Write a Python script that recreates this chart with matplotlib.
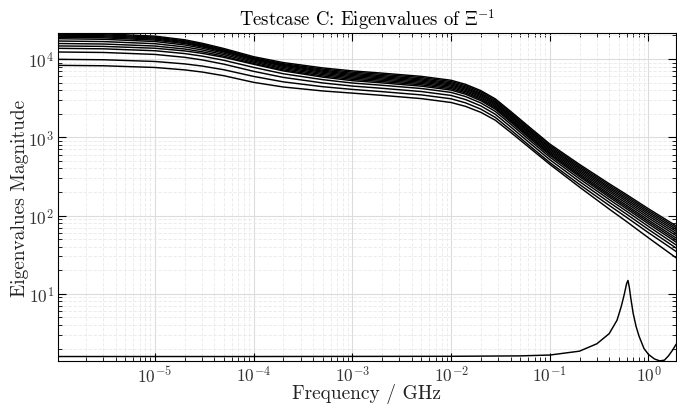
import matplotlib
matplotlib.use("Agg")
import matplotlib.pyplot as plt
from matplotlib.ticker import LogLocator, NullFormatter

plt.rcParams['font.family'] = 'serif'
plt.rcParams['font.serif'] = ['cmr10', 'DejaVu Serif']
plt.rcParams['mathtext.fontset'] = 'cm'
plt.rcParams['axes.formatter.use_mathtext'] = True
plt.rcParams['axes.unicode_minus'] = False

# Frequency grid (GHz) shared by the large eigenvalues
freq = [1e-6, 3e-6, 1e-5, 2e-5, 3e-5, 5e-5, 1e-4, 2e-4, 5e-4, 1e-3, 2e-3, 5e-3,
        1e-2, 1.4e-2, 2e-2, 2.8e-2, 4e-2, 6e-2, 0.1, 0.2, 0.4, 0.6, 1.0, 1.9]

eig01 = [21400, 21000, 19600, 17600, 15900, 13600, 10700, 9000, 7700, 7050, 6600, 6000,
         5350, 4750, 3950, 3100, 2150, 1400, 820, 450, 255, 185, 122, 74]
eig02 = [20800, 20410, 19050, 17090, 15440, 13200, 10380, 8710, 7440, 6800, 6370, 5790,
         5160, 4580, 3810, 2985, 2068, 1345, 787, 431, 243.5, 176.5, 116, 70.3]
eig03 = [20200, 19820, 18520, 16650, 15060, 12900, 10165, 8487, 7200, 6556, 6138, 5580,
         4975, 4413, 3664, 2869, 1986, 1290, 754, 412, 232, 168, 110.3, 66.6]
eig04 = [19600, 19244, 17987, 16196, 14676, 12600, 9951, 8276, 6988, 6345, 5940, 5400,
         4815, 4268, 3540, 2769, 1914, 1242, 726, 395, 221.5, 159.8, 104.6, 62.9]
eig05 = [19000, 18663, 17456, 15745, 14294, 12301, 9737, 8064, 6776, 6134, 5742, 5220,
         4655, 4123, 3417, 2669, 1843, 1194, 697, 377, 210.8, 151.6, 98.9, 59.2]
eig06 = [18190, 17869, 16731, 15118, 13754, 11866, 9416, 7794, 6545, 5922, 5544, 5040,
         4494, 3978, 3294, 2569, 1771, 1146, 668, 360, 200, 143.4, 93.2, 55.5]
eig07 = [16990, 16710, 15694, 14270, 13070, 11370, 9095, 7524, 6314, 5711, 5346, 4860,
         4334, 3833, 3170, 2469, 1700, 1098, 640, 343, 189.3, 135.3, 87.5, 51.8]
eig08 = [15790, 15550, 14657, 13422, 12386, 10873, 8774, 7254, 6083, 5499, 5148, 4680,
         4173, 3691, 3051, 2376, 1635, 1056, 615, 328, 180.5, 128.6, 82.9, 48.8]
eig09 = [14700, 14498, 13732, 12688, 11822, 10496, 8560, 7043, 5871, 5288, 4950, 4500,
         4013, 3548, 2933, 2283, 1571, 1014, 590, 314, 171.6, 121.9, 78.3, 45.9]
eig10 = [13700, 13497, 12756, 11739, 10892, 9622, 7811, 6476, 5448, 4935, 4620, 4200,
         3745, 3316, 2745, 2142, 1477, 956, 558, 294.6, 160.2, 113.4, 72.5, 42.2]
eig11 = [12300, 12123, 11446, 10516, 9739, 8586, 6955, 5819, 4947, 4512, 4224, 3840,
         3424, 3035, 2518, 1970, 1362, 884, 517, 272, 147.5, 104.1, 66.4, 38.5]
eig12 = [9910, 9784, 9302, 8661, 8133, 7287, 5992, 5103, 4428, 4089, 3828, 3480,
         3103, 2755, 2291, 1798, 1247, 812, 475.6, 249.6, 134.7, 94.9, 60.3, 34.8]
eig13 = [8303, 8200, 7797, 7262, 6821, 6113, 5029, 4388, 3908, 3666, 3432, 3120,
         2782, 2484, 2084, 1654, 1160, 764, 451, 231, 121, 83.7, 51.9, 28.9]

large_eigs = [eig01, eig02, eig03, eig04, eig05, eig06, eig07, eig08, eig09,
              eig10, eig11, eig12, eig13]

# Smallest eigenvalue (resonance near 0.62 GHz)
freq_small = [1e-6, 1e-4, 1e-2, 0.05, 0.1, 0.2, 0.3, 0.4, 0.48, 0.53, 0.57, 0.6,
              0.62, 0.64, 0.66, 0.7, 0.75, 0.8, 0.9, 1.0, 1.15, 1.3, 1.45, 1.6, 1.75, 1.9]
eig_small = [1.58, 1.58, 1.59, 1.61, 1.65, 1.85, 2.3, 3.1, 4.6, 6.9, 10.0, 13.5,
             14.8, 12.0, 9.0, 5.6, 3.8, 2.9, 2.0, 1.68, 1.47, 1.39, 1.42, 1.62, 1.9, 2.25]

fig = plt.figure(figsize=(6.77, 4.06), dpi=100)
ax = fig.add_axes([58/677, 44/406, 618/677, 328/406])

for vals in large_eigs:
    ax.plot(freq, vals, color='black', lw=1.05)
ax.plot(freq_small, eig_small, color='black', lw=1.05)

ax.set_xscale('log')
ax.set_yscale('log')
ax.set_xlim(1.04e-6, 1.9)
ax.set_ylim(1.385, 2.15e4)

ax.xaxis.set_major_locator(LogLocator(base=10, numticks=20))
ax.xaxis.set_minor_locator(LogLocator(base=10, subs=range(2, 10), numticks=100))
ax.yaxis.set_major_locator(LogLocator(base=10, numticks=20))
ax.yaxis.set_minor_locator(LogLocator(base=10, subs=range(2, 10), numticks=100))
ax.xaxis.set_minor_formatter(NullFormatter())
ax.yaxis.set_minor_formatter(NullFormatter())

ax.grid(True, which='major', color='#dcdcdc', lw=0.8, ls='-')
ax.grid(True, which='minor', color='#e9e9e9', lw=0.6, ls=(0, (4, 2)))
ax.set_axisbelow(True)

ax.tick_params(which='both', direction='in', top=True, right=True,
               colors='black', labelcolor='#333333', labelsize=12.5)
ax.tick_params(which='major', length=6, width=0.8)
ax.tick_params(axis='x', which='major', pad=2)
ax.tick_params(axis='y', which='major', pad=3)
ax.tick_params(which='minor', length=3, width=0.6)
for s in ax.spines.values():
    s.set_linewidth(0.8)

ax.set_title(r'Testcase C: Eigenvalues of $\Xi^{-1}$', fontsize=13.5, pad=6)
ax.set_xlabel('Frequency / GHz', fontsize=14, color='#222222', labelpad=-1)
ax.set_ylabel('Eigenvalues Magnitude', fontsize=14, color='#222222', labelpad=-1)

fig.savefig('out.png', dpi=100)
